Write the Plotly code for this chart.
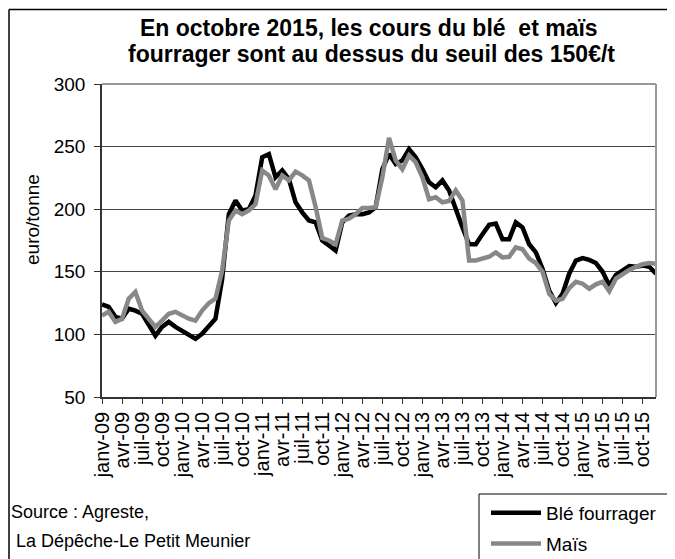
import plotly.graph_objects as go

MONTHS = ["janv", "févr", "mars", "avr", "mai", "juin", "juil", "août", "sept", "oct", "nov", "déc"]
YEARS = ["09", "10", "11", "12", "13", "14", "15"]
categories = [f"{m}-{y}" for y in YEARS for m in MONTHS]

ble_fourrager = [
    124, 122, 114, 112.5, 120.5, 119, 116.5, 108.5, 99, 106, 110, 106,
    103, 100.5, 96.5, 100.5, 106, 112.5, 144, 196, 207, 199, 200, 211,
    241.5, 244, 225.5, 231, 224, 205.5, 197.5, 191, 189.5, 175, 171, 167,
    189.5, 195, 196, 196, 197.5, 201.5, 232, 244, 236, 239, 248, 241.5,
    232, 221.5, 217.5, 223, 215, 199, 185.5, 172, 172, 180, 187.5, 188.5,
    176, 176, 189.5, 185.5, 172, 165.5, 152.5, 135, 125, 132.5, 148.5, 159,
    161, 159.5, 157, 150, 139, 147.5, 150.5, 154.5, 154, 155, 154, 148.5,
]
mais = [
    115, 118, 110, 112.5, 128.5, 134, 119, 112.5, 106, 111, 116.5, 118,
    115, 112.5, 111, 119, 125, 128.5, 151, 191, 199, 196, 199, 204,
    231, 227, 216, 227, 223, 230, 227, 223, 202, 177, 175, 172,
    191, 192.5, 196, 201, 201, 201.5, 225.5, 257, 239, 232, 243, 237.5,
    225.5, 208, 209.5, 205.5, 206.5, 215, 207, 159, 159, 160.5, 162, 165.5,
    161.5, 162, 169.5, 168, 160.5, 157, 150, 132.5, 127, 128.5, 137, 142,
    140.5, 136.5, 140, 142, 134.5, 144.5, 148.5, 151.5, 154, 156, 157, 156.5,
]
tick_labels = categories[::3]
y_ticks = [50, 100, 150, 200, 250, 300]

# page body has an 8px default margin: the figure is drawn 8px in from the window edges
OFF = 8
WIN_W, WIN_H = 675, 559
W, H = WIN_W - OFF, WIN_H - OFF
L, R, T, B = 102, 656, 84, 397  # plot area in window pixels
FONT = "Liberation Sans, Arial, sans-serif"


def px(x):
    return (x - L) / (R - L)


def py(y):
    return (B - y) / (B - T)


fig = go.Figure()
fig.add_trace(go.Scatter(x=categories, y=ble_fourrager, mode="lines", name="Blé fourrager",
                         line=dict(color="#000000", width=4.5), legendgroup="a"))
fig.add_trace(go.Scatter(x=categories, y=mais, mode="lines", name="Maïs",
                         line=dict(color="#888888", width=4.5), legendgroup="b"))

fig.update_layout(
    width=W, height=H,
    margin=dict(l=L - OFF, r=WIN_W - R, t=T - OFF, b=WIN_H - B, autoexpand=False),
    paper_bgcolor="white", plot_bgcolor="white",
    font=dict(family=FONT, color="black", size=18),
    showlegend=True,
    legend=dict(x=px(486), y=py(494), xanchor="left", yanchor="top",
                bgcolor="rgba(0,0,0,0)", borderwidth=0, itemwidth=50,
                font=dict(family=FONT, size=19, color="black"),
                tracegroupgap=3, traceorder="grouped"),
)

fig.update_xaxes(
    type="category", range=[0, len(categories) - 1],
    tickmode="array", tickvals=tick_labels, ticktext=tick_labels,
    tickangle=-90, ticks="outside", ticklen=5, tickcolor="#333",
    tickfont=dict(family=FONT, size=20, color="black"),
    showline=True, linecolor="#333", linewidth=1.5,
    showgrid=False, zeroline=False,
)
fig.update_yaxes(
    range=[50, 300], tickvals=y_ticks, ticks="outside", ticklen=6, tickcolor="#333",
    ticklabelstandoff=5,
    tickfont=dict(family=FONT, size=19, color="black"),
    showline=True, linecolor="#333", linewidth=1.5,
    showgrid=True, gridcolor="#444", gridwidth=1, zeroline=False,
)

shapes = [
    dict(type="line", xref="paper", yref="paper", x0=0, x1=1, y0=1, y1=1, line=dict(color="#999", width=2)),
    dict(type="line", xref="paper", yref="paper", x0=1, x1=1, y0=0, y1=1, line=dict(color="#999", width=2)),
    dict(type="line", xref="paper", yref="paper", x0=px(9), x1=px(9), y0=py(9.5), y1=py(600), line=dict(color="black", width=1.5)),
    dict(type="line", xref="paper", yref="paper", x0=px(9), x1=px(700), y0=py(9.5), y1=py(9.5), line=dict(color="black", width=1.5)),
    dict(type="rect", xref="paper", yref="paper", x0=px(479), x1=px(700), y0=py(494), y1=py(600), line=dict(color="black", width=1)),
]
fig.update_layout(shapes=shapes)

fig.add_annotation(text="<b>En octobre 2015, les cours du blé  et maïs</b>", x=px(369), y=py(28),
                   xref="paper", yref="paper", showarrow=False, xanchor="center", yanchor="middle",
                   font=dict(family=FONT, size=23, color="black"))
fig.add_annotation(text="<b>fourrager sont au dessus du seuil des 150€/t</b>", x=px(371), y=py(54),
                   xref="paper", yref="paper", showarrow=False, xanchor="center", yanchor="middle",
                   font=dict(family=FONT, size=23, color="black"))
fig.add_annotation(text="euro/tonne", textangle=-90, x=px(32), y=py(220), xref="paper", yref="paper",
                   showarrow=False, font=dict(family=FONT, size=19, color="black"),
                   xanchor="center", yanchor="middle")
fig.add_annotation(text="Source : Agreste,", x=px(9), y=py(512), xref="paper", yref="paper",
                   showarrow=False, xanchor="left", yanchor="middle",
                   font=dict(family=FONT, size=18, color="black"))
fig.add_annotation(text=" La Dépêche-Le Petit Meunier", x=px(9), y=py(541), xref="paper", yref="paper",
                   showarrow=False, xanchor="left", yanchor="middle",
                   font=dict(family=FONT, size=18, color="black"))

fig.write_html("out.html")
